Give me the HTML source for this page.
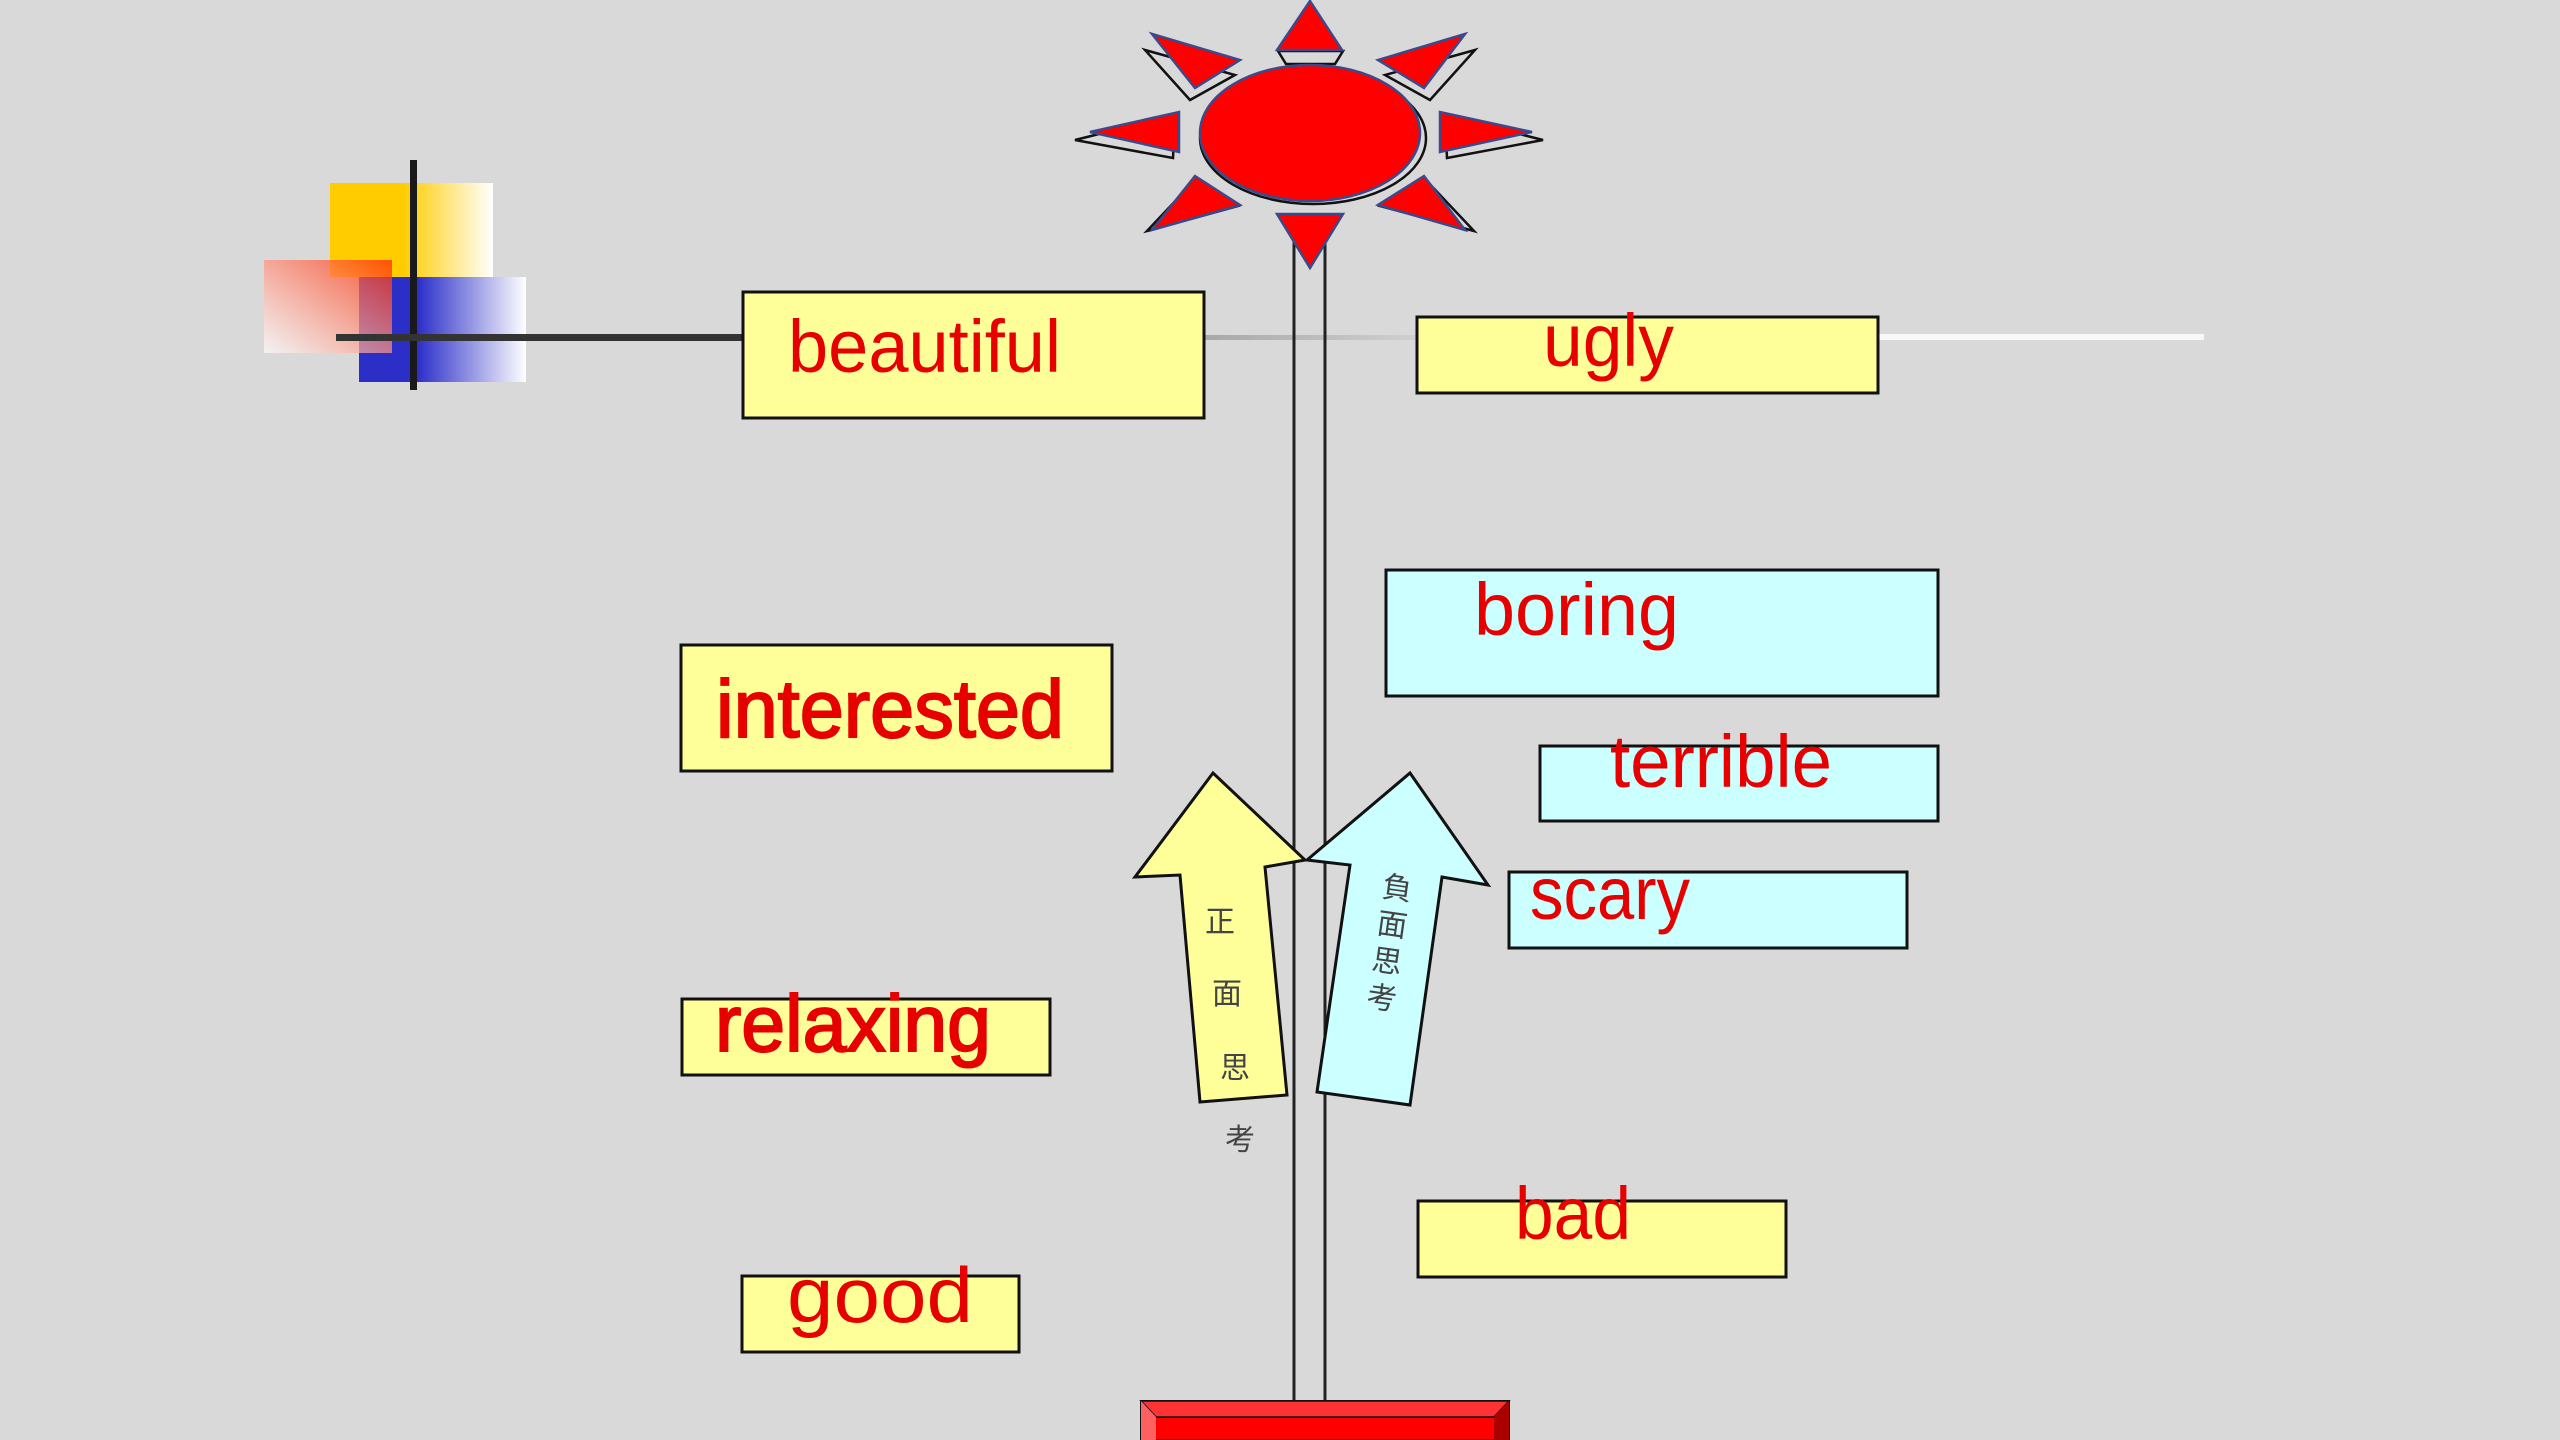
<!DOCTYPE html>
<html><head><meta charset="utf-8"><style>
html,body{margin:0;padding:0;background:#d9d9d9;}
svg{display:block;}
.w{font-family:"Liberation Sans","Noto Sans CJK SC",sans-serif;fill:#e60000;}
.c{font-family:"Noto Sans CJK TC","Noto Sans CJK SC",sans-serif;fill:#444;font-size:30px;}
</style></head><body>
<svg width="2560" height="1440" viewBox="0 0 2560 1440" xmlns="http://www.w3.org/2000/svg">
<defs>
<linearGradient id="gy" x1="0" x2="1" y1="0" y2="0"><stop offset="0.45" stop-color="#ffcc00"/><stop offset="1" stop-color="#ffffff"/></linearGradient>
<linearGradient id="gb" x1="0" x2="1" y1="0" y2="0"><stop offset="0.35" stop-color="#2b2fc8"/><stop offset="1" stop-color="#ffffff"/></linearGradient>
<linearGradient id="gr" x1="1" y1="0" x2="0" y2="1"><stop offset="0" stop-color="#ff2a00"/><stop offset="1" stop-color="#ffffff" stop-opacity="0.9"/></linearGradient>
<linearGradient id="gl" x1="0" x2="1" y1="0" y2="0"><stop offset="0" stop-color="#a8a8a8"/><stop offset="1" stop-color="#d0d0d0"/></linearGradient>
</defs>
<rect width="2560" height="1440" fill="#d9d9d9"/>
<!-- logo -->
<rect x="330" y="183" width="163" height="94" fill="url(#gy)"/>
<rect x="359" y="277" width="167" height="105" fill="url(#gb)"/>
<rect x="264" y="260" width="128" height="93" fill="url(#gr)" opacity="0.75"/>
<rect x="410" y="160" width="7" height="230" fill="#1a1a1a"/>
<!-- horizontal line -->
<rect x="336" y="334" width="407" height="7" fill="#333"/>
<rect x="1204" y="335" width="214" height="5" fill="url(#gl)"/>
<rect x="1878" y="334" width="326" height="6" fill="#f8f8f8"/>
<!-- pole -->
<line x1="1294" y1="240" x2="1294" y2="1402" stroke="#222" stroke-width="3"/>
<line x1="1325" y1="240" x2="1325" y2="1402" stroke="#222" stroke-width="3"/>
<!-- base -->
<polygon points="1141,1401 1509,1401 1509,1440 1141,1440" fill="#ff0000" stroke="#111" stroke-width="2"/>
<polygon points="1141,1401 1509,1401 1494,1417 1156,1417" fill="#ff3333" stroke="#111" stroke-width="1.5"/>
<polygon points="1141,1401 1156,1417 1156,1440 1141,1440" fill="#ff6060"/>
<polygon points="1509,1401 1494,1417 1494,1440 1509,1440" fill="#aa0000"/>
<!-- sun shadows -->
<g fill="none" stroke="#111" stroke-width="2.5">
<ellipse cx="1313" cy="138" rx="113" ry="66"/>
<polygon points="1278,51 1343,51 1335,64 1286,64"/>
<polygon points="1145,50 1235,75 1190,100"/>
<polygon points="1475,50 1385,75 1430,100"/>
<polygon points="1075,140 1175,115 1173,158"/>
<polygon points="1543,140 1445,115 1447,158"/>
<polygon points="1147,231 1197,178 1238,206"/>
<polygon points="1474,231 1424,178 1380,206"/>
</g>
<!-- sun -->
<g fill="#ff0000" stroke="#3a4a8a" stroke-width="2.5">
<ellipse cx="1310" cy="133" rx="110" ry="68"/>
<polygon points="1310,1 1277,50 1342,50"/>
<polygon points="1277,214 1343,214 1310,268"/>
<polygon points="1090,132 1179,112 1179,152"/>
<polygon points="1440,112 1440,152 1532,132"/>
<polygon points="1152,34 1240,60 1195,88"/>
<polygon points="1465,34 1378,60 1424,88"/>
<polygon points="1195,176 1240,205 1152,230"/>
<polygon points="1424,176 1378,205 1465,230"/>
</g>
<!-- boxes -->
<g stroke="#111" stroke-width="3">
<rect x="743" y="292" width="461" height="126" fill="#ffff99"/>
<rect x="1417" y="317" width="461" height="76" fill="#ffff99"/>
<rect x="1386" y="570" width="552" height="126" fill="#ccffff"/>
<rect x="681" y="645" width="431" height="126" fill="#ffff99"/>
<rect x="1540" y="746" width="398" height="75" fill="#ccffff"/>
<rect x="1509" y="872" width="398" height="76" fill="#ccffff"/>
<rect x="682" y="999" width="368" height="76" fill="#ffff99"/>
<rect x="1418" y="1201" width="368" height="76" fill="#ffff99"/>
<rect x="742" y="1276" width="277" height="76" fill="#ffff99"/>
</g>
<g class="w">
<text x="788" y="372" font-size="74" textLength="273" lengthAdjust="spacingAndGlyphs">beautiful</text>
<text x="1543" y="366" font-size="74" textLength="131" lengthAdjust="spacingAndGlyphs">ugly</text>
<text x="1474" y="635" font-size="74" textLength="205" lengthAdjust="spacingAndGlyphs">boring</text>
<text x="716" y="737" font-size="82" stroke="#e60000" stroke-width="2" textLength="348" lengthAdjust="spacingAndGlyphs">interested</text>
<text x="1610" y="787" font-size="74" textLength="222" lengthAdjust="spacingAndGlyphs">terrible</text>
<text x="1530" y="919" font-size="74" textLength="160" lengthAdjust="spacingAndGlyphs">scary</text>
<text x="715" y="1051" font-size="80" stroke="#e60000" stroke-width="2" textLength="276" lengthAdjust="spacingAndGlyphs">relaxing</text>
<text x="1515" y="1239" font-size="74" textLength="116" lengthAdjust="spacingAndGlyphs">bad</text>
<text x="787" y="1322" font-size="78" textLength="186" lengthAdjust="spacingAndGlyphs">good</text>
</g>
<!-- arrows -->
<polygon points="1213,773 1135,877 1180,875 1200,1102 1287,1095 1265,867 1305,860" fill="#ffff99" stroke="#111" stroke-width="3"/>
<polygon points="1410,773 1488,885 1442,877 1410,1105 1317,1092 1350,865 1307,860" fill="#ccffff" stroke="#111" stroke-width="3"/>
<g class="c">
<text x="1205" y="932">正</text>
<text x="1212" y="1004">面</text>
<text x="1220" y="1078">思</text>
<text x="1225" y="1150">考</text>
<g transform="rotate(8 1390 940)">
<text x="1375" y="898">負</text>
<text x="1375" y="935">面</text>
<text x="1375" y="972">思</text>
<text x="1375" y="1009">考</text>
</g>
</g>
</svg>
</body></html>
